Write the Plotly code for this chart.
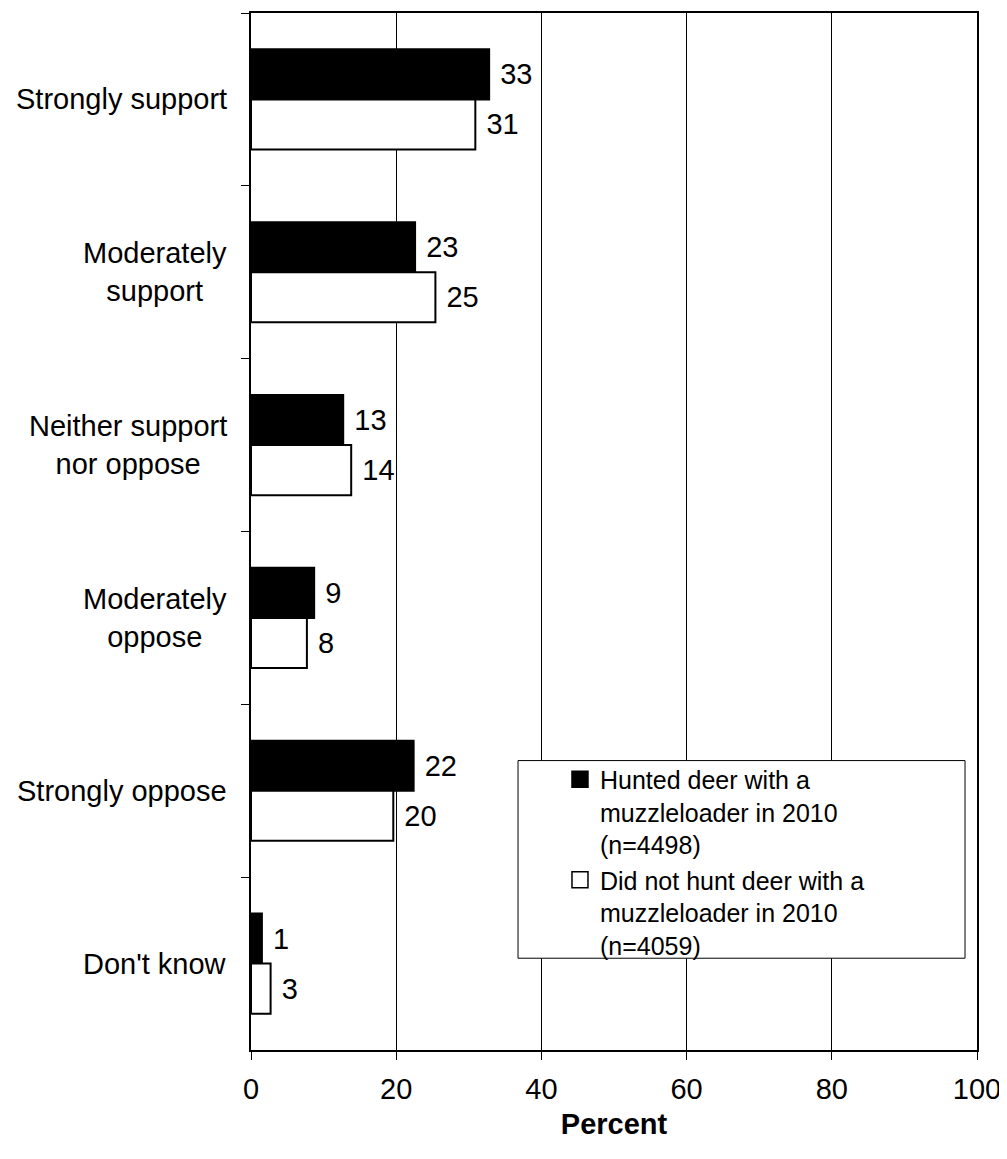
import plotly.graph_objects as go

categories = ["Strongly support", "Moderately<br>support", "Neither support<br>nor oppose",
              "Moderately<br>oppose", "Strongly oppose", "Don't know"]
hunted = [32.8, 22.6, 12.7, 8.7, 22.4, 1.5]
not_hunted = [30.9, 25.4, 13.8, 7.7, 19.6, 2.7]
hunted_labels = ["33", "23", "13", "9", "22", "1"]
not_hunted_labels = ["31", "25", "14", "8", "20", "3"]
series_names = ["Hunted deer with a<br>muzzleloader in 2010<br>(n=4498)",
                "Did not hunt deer with a<br>muzzleloader in 2010<br>(n=4059)"]
x_ticks = [0, 20, 40, 60, 80, 100]

FONT = "Liberation Sans, Arial, sans-serif"
FS = 29

fig = go.Figure()
for vals, labels, fill, name in [(hunted, hunted_labels, "black", series_names[0]),
                                 (not_hunted, not_hunted_labels, "white", series_names[1])]:
    fig.add_trace(go.Bar(
        y=categories, x=vals, orientation="h",
        marker=dict(color=fill, line=dict(color="black", width=2)),
        text=[" " + t for t in labels], textposition="outside",
        textfont=dict(size=FS, color="black", family=FONT),
        cliponaxis=False, showlegend=False,
    ))
    fig.add_trace(go.Scatter(
        x=[None], y=[None], mode="markers", name=name,
        marker=dict(symbol="square", size=16, color=fill, line=dict(color="black", width=1.5)),
    ))

# category labels (centered multi-line)
for c in categories:
    fig.add_annotation(x=0, xref="paper", y=c, yref="y", xanchor="right", xshift=-22,
                       text=c, showarrow=False, align="center",
                       font=dict(size=FS, family=FONT, color="black"))

# legend frame
fig.add_shape(type="rect", xref="paper", yref="paper",
              x0=0.3678, x1=0.9835, y0=0.0885, y1=0.2791,
              fillcolor="white", line=dict(color="black", width=1), layer="above")

fig.update_layout(
    width=999, height=1151,
    margin=dict(l=243, r=30, t=3, b=109),
    paper_bgcolor="white", plot_bgcolor="white",
    barmode="group", bargap=0.42, bargroupgap=0,
    font=dict(family=FONT, size=FS, color="black"),
    legend=dict(
        x=0.4256, y=0.283, xanchor="left", yanchor="top",
        bgcolor="rgba(0,0,0,0)", borderwidth=0, valign="top",
        font=dict(size=25, family=FONT, color="black"),
        itemwidth=30, tracegroupgap=0,
    ),
    xaxis=dict(
        range=[0, 100], tickvals=x_ticks, ticks="outside", ticklen=8, tickcolor="black",
        showgrid=True, gridcolor="black", gridwidth=1,
        showline=True, linecolor="black", linewidth=2, mirror=True,
        zeroline=False, tickfont=dict(size=FS), ticklabelstandoff=4,
        title=dict(text="<b>Percent</b>", font=dict(size=FS), standoff=10),
    ),
    yaxis=dict(
        type="category", autorange="reversed", tickson="boundaries",
        ticks="outside", ticklen=8, tickcolor="black",
        showline=True, linecolor="black", linewidth=2, mirror=True,
        showgrid=False, showticklabels=False,
    ),
)

fig.write_html("out.html")
